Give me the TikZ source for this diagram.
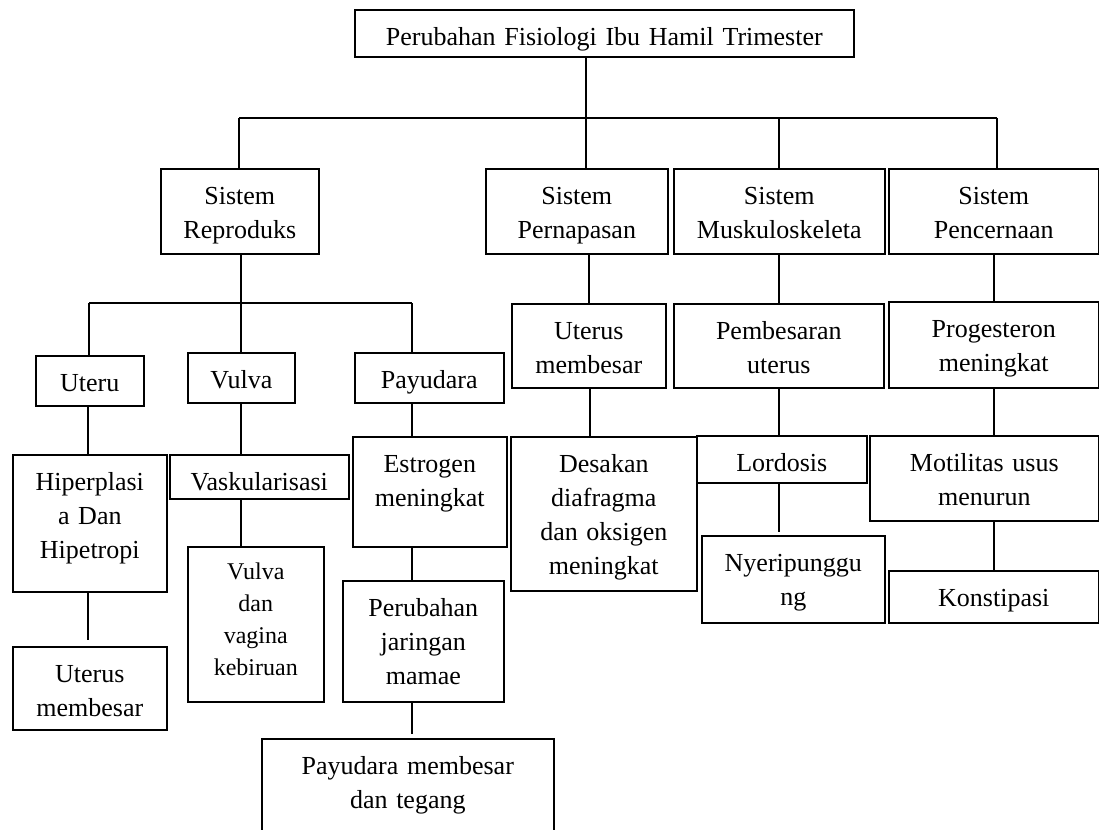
\documentclass[tikz,border=0pt]{standalone}
\usepackage{fontspec}
\setmainfont{Liberation Serif}

\begin{document}
\begin{tikzpicture}[x=1pt, y=-1pt]
\tikzstyle{box}=[rectangle, draw=black, line width=1.6pt, anchor=north west, inner sep=0pt, align=center, text height=36pt, font=\fontsize{26}{34}\selectfont]
\tikzstyle{connect}=[line width=1.6pt]
  \useasboundingbox (0,0) rectangle (1099,829);
  \clip (0,0) rectangle (1099,829);
  % level 0 and 1
  \node[box, text width=499pt, text depth=11pt] (top) at (354,9) {Perubahan Fisiologi Ibu Hamil Trimester};
  \node[box, text width=158pt, text depth=49pt] (sr) at (160,168) {Sistem\\Reproduks};
  \node[box, text width=182pt, text depth=49pt] (sp) at (485,168) {Sistem\\Pernapasan};
  \node[box, text width=211pt, text depth=49pt] (sm) at (673,168) {Sistem\\Muskuloskeleta};
  \node[box, text width=210pt, text depth=49pt] (sc) at (888,168) {Sistem\\Pencernaan};
  % reproduksi
  \node[box, text width=108pt, text depth=14pt] (ut) at (35,355) {Uteru};
  \node[box, text width=107pt, text depth=14pt] (vu) at (187,352) {Vulva};
  \node[box, text width=149pt, text depth=14pt] (py) at (354,352) {Payudara};
  \node[box, text width=154pt, text depth=101pt] (hp) at (12,454) {Hiperplasi\\a Dan\\Hipetropi};
  \node[box, text width=154pt, text depth=47pt] (um1) at (12,646) {Uterus\\membesar};
  \node[box, text width=179pt, text depth=8pt] (vs) at (169,454) {Vaskularisasi};
  \node[box, text width=136pt, text height=33pt, text depth=122pt, font=\fontsize{24}{32}\selectfont] (vv) at (187,546) {Vulva\\dan\\vagina\\kebiruan};
  \node[box, text width=154pt, text depth=74pt] (es) at (352,436) {Estrogen\\meningkat};
  \node[box, text width=161pt, text depth=85pt] (pj) at (342,580) {Perubahan\\jaringan\\mamae};
  \node[box, text width=292pt, text depth=104pt] (pm) at (261,738) {Payudara membesar\\dan tegang};
  % pernapasan, muskuloskeletal, pencernaan
  \node[box, text width=154pt, text depth=48pt] (um2) at (511,303) {Uterus\\membesar};
  \node[box, text width=210pt, text depth=48pt] (pb) at (673,303) {Pembesaran\\uterus};
  \node[box, text width=210pt, text depth=50pt] (pg) at (888,301) {Progesteron\\meningkat};
  \node[box, text width=186pt, text depth=118pt] (ds) at (510,436) {Desakan\\diafragma\\dan oksigen\\meningkat};
  \node[box, text width=170pt, text depth=11pt] (ld) at (696,435) {Lordosis};
  \node[box, text width=183pt, text depth=51pt] (ny) at (701,535) {Nyeripunggu\\ng};
  \node[box, text width=229pt, text depth=49pt] (mt) at (869,435) {Motilitas usus\\menurun};
  \node[box, text width=210pt, text depth=16pt] (ks) at (888,570) {Konstipasi};
  % branch lines
  \coordinate (busa) at (239,118);
  \coordinate (busb) at (997,118);
  \coordinate (root) at (586,118);
  \coordinate (musk) at (779,118);
  \coordinate (busc) at (89,303);
  \coordinate (busd) at (412,303);
  \coordinate (repro) at (241,303);
  \draw[connect] (busa) -- (busb);
  \draw[connect] (root |- top.south) -- (root |- sp.north);
  \draw[connect] (busa) -- (busa |- sr.north);
  \draw[connect] (musk) -- (musk |- sm.north);
  \draw[connect] (busb) -- (busb |- sc.north);
  \draw[connect] (busc) -- (busd);
  \draw[connect] (repro |- sr.south) -- (repro |- vu.north);
  \draw[connect] (busc) -- (busc |- ut.north);
  \draw[connect] (busd) -- (busd |- py.north);
  \foreach \a/\b/\x/\s in {ut/hp/88/0, hp/um1/88/6, vu/vs/241/0, vs/vv/241/0,
      py/es/412/0, es/pj/412/0, pj/pm/412/4, sp/um2/589/0, um2/ds/590/0,
      sm/pb/779/0, pb/ld/779/0, ld/ny/779/3, sc/pg/994/0, pg/mt/994/0, mt/ks/994/0}
  {
    \coordinate (t) at (\x,0);
    \draw[connect, shorten >=\s pt] (\a.south -| t) -- (\b.north -| t);
  }
\end{tikzpicture}
\end{document}
